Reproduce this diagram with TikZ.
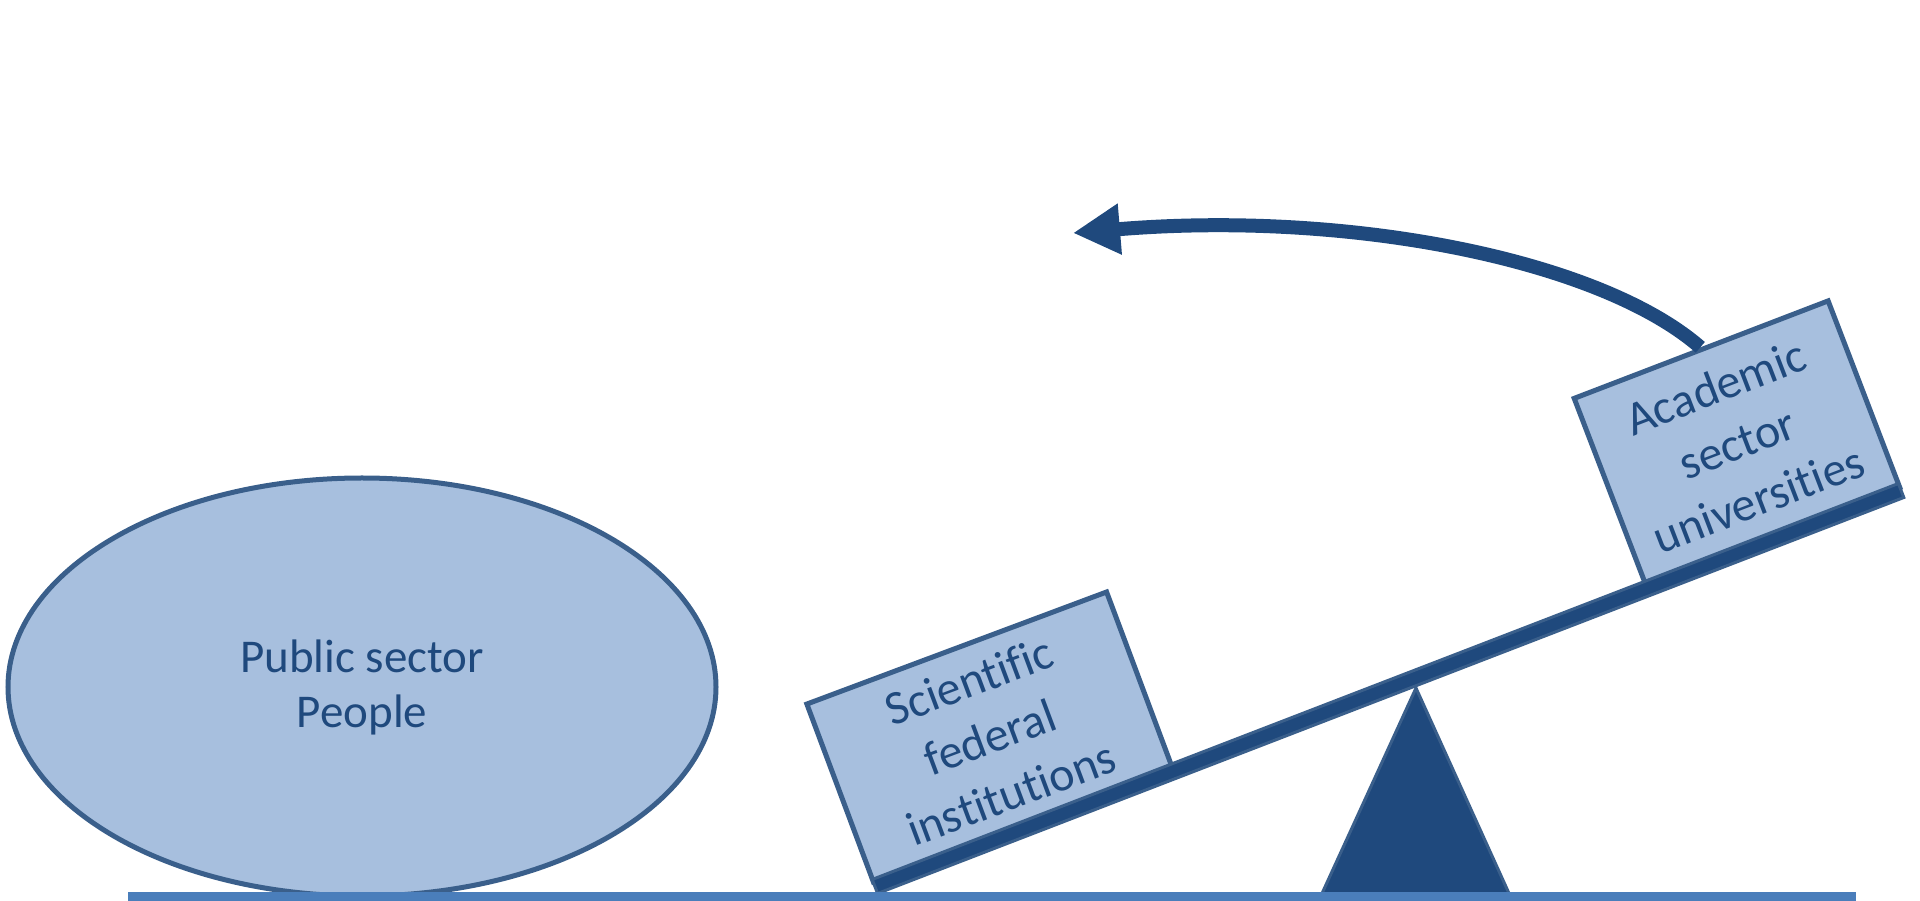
\documentclass[tikz,border=0pt]{standalone}
\usepackage{fontspec}
\setmainfont{Carlito}[Ligatures=NoCommon]
\usetikzlibrary{arrows.meta,shapes.geometric,positioning}
\definecolor{paleblue}{HTML}{A7BFDE}
\definecolor{edgeblue}{HTML}{3A5F8B}
\definecolor{darkblue}{HTML}{1F497D}
\definecolor{groundblue}{HTML}{4A7EBB}

\begin{document}
\begin{tikzpicture}[x=1pt,y=1pt,
    weight/.style={draw=edgeblue, line width=5pt, fill=paleblue, text=darkblue, align=center, inner sep=0pt,
        font=\fontsize{48}{60}\selectfont},
    plank/.style={draw=edgeblue, line width=3pt, fill=darkblue, inner sep=0pt}]
    \useasboundingbox (0,0) rectangle (1920,900);
    % left side
    \node[weight, ellipse, minimum width=708pt, minimum height=418pt, font=\fontsize{47}{55}\selectfont] (public) at (362,213) {Public sector\\People};
    % the two boxes on the seesaw
    \node[weight, rotate=20.5, minimum width=320pt, minimum height=190pt] (sci) at (990,163) {Scientific\\federal\\institutions};
    \node[weight, rotate=21, minimum width=272pt, minimum height=200pt] (acad) at (1737,457) {Academic\\sector\\universities};
    % seesaw
    \node[plank, rotate=21.1, minimum width=1100pt, minimum height=15pt] (beam) at (1388,211.5) {};
    \filldraw[fill=darkblue, draw=edgeblue, line width=3pt] (1319,0) -- (1416,212) -- (1512,0) -- cycle;
    \draw[groundblue, line width=9pt] (128,4) -- (1856,4);
    % arrow
    \coordinate (tip) at (1073,667);
    \draw[darkblue, line width=14pt, -{Triangle[length=47pt,width=48pt]}] (acad.north) .. controls (1600,640) and (1350,690) .. (tip);
\end{tikzpicture}
\end{document}
